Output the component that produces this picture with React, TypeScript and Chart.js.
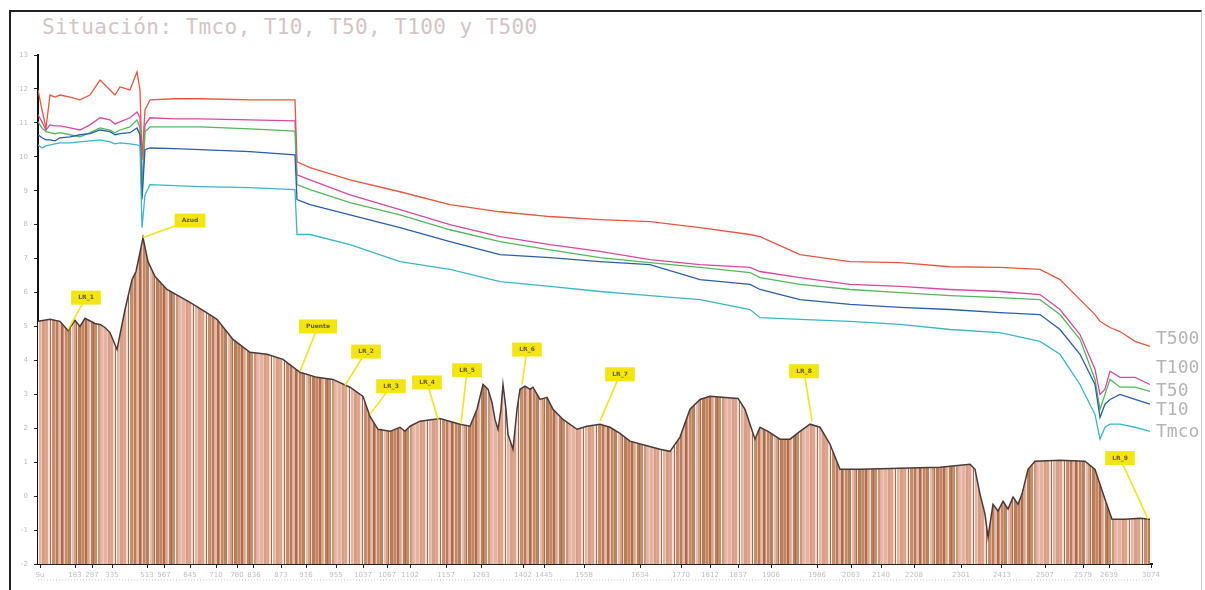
import { useEffect, useRef } from 'react';
import { Chart, registerables } from 'chart.js';
Chart.register(...registerables);

// ---- data (x = chainage, y = elevation) ----
const seriesX = [0, 40, 80, 120, 170, 220, 320, 420, 520, 620, 720, 770, 820, 920, 990, 1020, 1040, 1070, 1120, 1370, 1620, 2120, 2570, 2590, 2720, 3120, 3620, 4120, 4620, 5120, 5620, 6120, 6620, 7120, 7220, 7620, 8120, 8620, 9120, 9620, 10020, 10220, 10420, 10570, 10620, 10670, 10720, 10820, 10970, 11120];
const t500 = [11.97, 11.38, 10.85, 11.82, 11.76, 11.82, 11.76, 11.68, 11.82, 12.26, 11.97, 11.82, 12.06, 11.97, 12.5, 11.97, 9.91, 11.38, 11.68, 11.71, 11.71, 11.68, 11.68, 9.85, 9.68, 9.32, 8.97, 8.59, 8.38, 8.24, 8.15, 8.09, 7.91, 7.71, 7.65, 7.12, 6.91, 6.88, 6.76, 6.74, 6.68, 6.38, 5.79, 5.35, 5.15, 5.06, 4.97, 4.85, 4.56, 4.41];
const t100 = [11.24, 11.03, 10.79, 10.94, 10.91, 10.91, 10.85, 10.79, 10.94, 11.15, 11.09, 10.97, 11.03, 11.15, 11.32, 11.15, 9.03, 10.94, 11.15, 11.12, 11.12, 11.09, 11.06, 9.47, 9.32, 8.88, 8.44, 8.0, 7.65, 7.41, 7.21, 6.97, 6.82, 6.74, 6.62, 6.44, 6.24, 6.18, 6.09, 6.03, 5.94, 5.5, 4.76, 3.74, 3.0, 3.15, 3.68, 3.5, 3.5, 3.29];
const t50 = [11.03, 10.85, 10.74, 10.71, 10.68, 10.71, 10.65, 10.59, 10.71, 10.85, 10.79, 10.71, 10.79, 10.88, 11.09, 10.85, 8.88, 10.74, 10.88, 10.88, 10.88, 10.82, 10.76, 9.18, 9.03, 8.65, 8.29, 7.85, 7.5, 7.26, 7.03, 6.88, 6.74, 6.59, 6.44, 6.24, 6.09, 6.0, 5.91, 5.85, 5.79, 5.35, 4.62, 3.44, 2.56, 3.0, 3.44, 3.21, 3.21, 3.09];
const t10 = [10.65, 10.56, 10.5, 10.5, 10.47, 10.56, 10.59, 10.65, 10.68, 10.79, 10.74, 10.65, 10.68, 10.71, 10.85, 10.65, 8.74, 10.21, 10.26, 10.24, 10.21, 10.15, 10.06, 8.74, 8.59, 8.29, 7.91, 7.5, 7.12, 7.03, 6.91, 6.82, 6.38, 6.24, 6.09, 5.79, 5.65, 5.56, 5.5, 5.41, 5.35, 4.91, 4.18, 3.29, 2.32, 2.71, 2.85, 3.0, 2.85, 2.71];
const tmco = [10.35, 10.26, 10.32, 10.35, 10.38, 10.41, 10.41, 10.44, 10.47, 10.5, 10.44, 10.38, 10.41, 10.38, 10.35, 10.32, 7.91, 8.88, 9.18, 9.15, 9.12, 9.09, 9.03, 7.71, 7.71, 7.41, 6.91, 6.68, 6.32, 6.18, 6.03, 5.91, 5.79, 5.5, 5.26, 5.21, 5.15, 5.06, 4.91, 4.82, 4.56, 4.18, 3.29, 2.41, 1.68, 2.03, 2.12, 2.12, 2.03, 1.91];

const profileX = [0, 120, 220, 300, 370, 420, 470, 570, 620, 670, 720, 790, 870, 940, 980, 1020, 1050, 1100, 1170, 1290, 1520, 1670, 1790, 1950, 2120, 2290, 2450, 2620, 2790, 2950, 3120, 3250, 3320, 3400, 3520, 3620, 3670, 3720, 3820, 4020, 4220, 4320, 4390, 4450, 4500, 4540, 4570, 4600, 4630, 4650, 4680, 4700, 4750, 4790, 4820, 4870, 4920, 4950, 5020, 5090, 5150, 5250, 5390, 5490, 5620, 5720, 5820, 5920, 6070, 6220, 6320, 6420, 6520, 6620, 6720, 6870, 7000, 7070, 7120, 7170, 7220, 7300, 7420, 7520, 7620, 7720, 7820, 7920, 8020, 8220, 8620, 9020, 9320, 9370, 9420, 9470, 9500, 9550, 9600, 9650, 9700, 9750, 9800, 9840, 9900, 9970, 10220, 10470, 10570, 10670, 10740, 10870, 11020, 11120];
const profileY = [5.15, 5.21, 5.15, 4.88, 5.18, 5.0, 5.24, 5.09, 5.06, 4.97, 4.82, 4.32, 5.5, 6.38, 6.62, 7.18, 7.62, 6.91, 6.47, 6.09, 5.71, 5.44, 5.21, 4.62, 4.24, 4.18, 4.03, 3.65, 3.5, 3.44, 3.21, 2.94, 2.35, 1.97, 1.91, 2.03, 1.91, 2.06, 2.21, 2.29, 2.12, 2.06, 2.56, 3.29, 3.15, 2.76, 2.26, 1.97, 2.56, 3.29, 2.56, 1.82, 1.38, 2.56, 3.15, 3.24, 3.15, 3.21, 2.85, 2.91, 2.56, 2.26, 1.97, 2.06, 2.12, 2.03, 1.85, 1.62, 1.5, 1.38, 1.32, 1.74, 2.56, 2.85, 2.94, 2.91, 2.88, 2.56, 2.12, 1.68, 2.03, 1.91, 1.68, 1.68, 1.91, 2.12, 2.03, 1.53, 0.79, 0.79, 0.82, 0.85, 0.94, 0.79, 0.06, -0.53, -1.21, -0.24, -0.44, -0.15, -0.38, -0.03, -0.24, 0.06, 0.79, 1.03, 1.06, 1.03, 0.79, -0.09, -0.68, -0.68, -0.65, -0.68];

const xTickValues = [20, 370, 540, 740, 1090, 1260, 1520, 1780, 1990, 2160, 2430, 2680, 2980, 3250, 3490, 3720, 4080, 4430, 4850, 5060, 5460, 6020, 6430, 6720, 7000, 7330, 7790, 8130, 8430, 8760, 9230, 9640, 10070, 10450, 10710, 11130];
const xTickLabels = ['Su', '183', '287', '335', '513', '567', '645', '710', '780', '836', '873', '916', '955', '1037', '1067', '1102', '1157', '1263', '1402', '1445', '1558', '1634', '1770', '1812', '1837', '1906', '1986', '2063', '2140', '2208', '2301', '2413', '2507', '2579', '2639', '3074'];

const annNames = ['LR_1', 'Azud', 'Puente', 'LR_2', 'LR_3', 'LR_4', 'LR_5', 'LR_6', 'LR_7', 'LR_8', 'LR_9'];
const annTargetX = [300, 1050, 2620, 3070, 3320, 4000, 4230, 4840, 5620, 7740, 11100];
const annTargetY = [4.91, 7.62, 3.68, 3.26, 2.41, 2.26, 2.12, 3.29, 2.21, 2.21, -0.68];
const annLabelX = [480, 1520, 2800, 3280, 3530, 3890, 4290, 4890, 5820, 7660, 10820];
const annLabelY = [5.85, 8.12, 5.0, 4.26, 3.24, 3.35, 3.71, 4.32, 3.59, 3.68, 1.12];

const endLabels = ['T500', 'T100', 'T50', 'T10', 'Tmco'];
const endLabelY = [4.62, 3.76, 3.09, 2.53, 1.88];

const seriesNames = ['Tmco', 'T10', 'T50', 'T100', 'T500'];
const seriesValues = [tmco, t10, t50, t100, t500];
const seriesColors = ['#3bb5c8', '#2b5ea8', '#52b85a', '#d9489e', '#e9553f'];

function makeStripePattern(ctx: CanvasRenderingContext2D) {
  const colors = ['#b57d5a', '#e2b4a2', '#c48d6b', '#f4dcd4', '#a9704e', '#d3a083', '#ebbcae', '#fdf6f2', '#b88260', '#d9a68c', '#c08764', '#f0c6bc', '#cc9677', '#a66d4c', '#e3bba6', '#e8a59c'];
  const widths = [3, 1, 2, 1, 2, 2, 1, 1, 2, 1, 3, 1, 2, 2, 1, 1];
  const c = document.createElement('canvas');
  let total = 0;
  for (let r = 0; r < 3; r++) for (let i = 0; i < widths.length; i++) total += widths[i];
  c.width = total; c.height = 8;
  const g = c.getContext('2d')!;
  let x = 0;
  for (let r = 0; r < 3; r++) {
    for (let i = 0; i < colors.length; i++) {
      const k = (i * (r + 1) * 5 + r) % colors.length;
      g.fillStyle = colors[k];
      g.fillRect(x, 0, widths[i], 8);
      x += widths[i];
    }
  }
  return ctx.createPattern(c, 'repeat');
}

const overlayPlugin = {
  id: 'overlay',
  afterDatasetsDraw(chart: any) {
    const { ctx, scales, chartArea } = chart;
    const xs = scales.x, ys = scales.y;
    ctx.save();
    for (let i = 0; i < annNames.length; i++) {
      const tx = xs.getPixelForValue(annTargetX[i]);
      const ty = ys.getPixelForValue(annTargetY[i]);
      const lx = xs.getPixelForValue(annLabelX[i]);
      const ly = ys.getPixelForValue(annLabelY[i]);
      ctx.strokeStyle = '#f0e41a';
      ctx.lineWidth = 1.6;
      ctx.beginPath();
      ctx.moveTo(lx, ly);
      ctx.lineTo(tx, ty);
      ctx.stroke();
      ctx.font = 'bold 6px "DejaVu Sans"';
      const w = Math.max(24, ctx.measureText(annNames[i]).width + 14);
      ctx.fillStyle = '#f3e60c';
      ctx.fillRect(lx - w / 2, ly - 7, w, 14);
      ctx.fillStyle = '#6a5a30';
      ctx.textAlign = 'center';
      ctx.textBaseline = 'middle';
      ctx.fillText(annNames[i], lx, ly);
    }
    ctx.font = '18px "DejaVu Sans Mono"';
    ctx.fillStyle = '#b4b4b4';
    ctx.textAlign = 'left';
    ctx.textBaseline = 'middle';
    for (let i = 0; i < endLabels.length; i++) {
      ctx.fillText(endLabels[i], chartArea.right + 4, ys.getPixelForValue(endLabelY[i]));
    }
    ctx.strokeStyle = '#c4c4c4';
    ctx.lineWidth = 1;
    ctx.setLineDash([1, 2]);
    ctx.beginPath();
    ctx.moveTo(chartArea.left, chartArea.bottom + 16);
    ctx.lineTo(chartArea.right, chartArea.bottom + 16);
    ctx.stroke();
    ctx.restore();
  },
};

export default function App() {
  const ref = useRef<HTMLCanvasElement>(null);
  useEffect(() => {
    const canvas = ref.current!;
    const ctx = canvas.getContext('2d')!;
    const pattern = makeStripePattern(ctx);
    const lineSets = seriesNames.map((name, s) => ({
      type: 'line' as const,
      label: name,
      data: seriesX.map((x, i) => ({ x, y: seriesValues[s][i] })),
      borderColor: seriesColors[s],
      borderWidth: 1.3,
      pointRadius: 0,
      fill: false,
      tension: 0,
      order: 1,
    }));
    const chart = new Chart(ctx, {
      type: 'line',
      data: {
        datasets: [
          {
            label: 'Perfil',
            data: profileX.map((x, i) => ({ x, y: profileY[i] })),
            borderColor: '#4a3a3a',
            borderWidth: 1.5,
            backgroundColor: pattern as any,
            fill: 'start',
            pointRadius: 0,
            tension: 0,
            order: 2,
          },
          ...lineSets,
        ],
      },
      options: {
        responsive: false,
        animation: false,
        layout: { padding: { left: 8, right: 53, top: 55, bottom: 0 } },
        plugins: { legend: { display: false }, tooltip: { enabled: false }, title: { display: false } },
        scales: {
          x: {
            type: 'linear',
            min: 0,
            max: 11140,
            afterFit: (s: any) => { s.height = 26; },
            afterBuildTicks: (axis: any) => { axis.ticks = xTickValues.map((v) => ({ value: v })); },
            ticks: {
              autoSkip: false,
              maxRotation: 0,
              padding: 3,
              color: '#bdbdbd',
              font: { size: 7, family: 'DejaVu Sans' },
              callback: (_v: any, i: number) => xTickLabels[i],
            },
            grid: { display: true, drawOnChartArea: false, drawTicks: true, tickLength: 4, color: '#222' },
            border: { display: true, color: '#222', width: 2 },
          },
          y: {
            type: 'linear',
            min: -2,
            max: 13,
            afterFit: (s: any) => { s.width = 30; },
            ticks: { stepSize: 1, color: '#bdbdbd', font: { size: 7, family: 'DejaVu Sans' }, padding: 6 },
            grid: { display: true, drawOnChartArea: false, drawTicks: true, tickLength: 4, color: '#222' },
            border: { display: true, color: '#111', width: 2 },
          },
        },
      },
      plugins: [overlayPlugin],
    });
    return () => chart.destroy();
  }, []);

  return (
    <div style={{ position: 'absolute', left: 0, top: 0, width: 1205, height: 590, background: '#fff', overflow: 'hidden' }}>
      <div style={{ position: 'absolute', left: 9, top: 10, width: 1190, height: 600, borderTop: '2px solid #222', borderLeft: '2px solid #222', borderRight: '1px solid #ccc' }} />
      <div style={{ position: 'absolute', left: 42, top: 15, fontFamily: '"DejaVu Sans Mono", monospace', fontSize: 21, color: '#d3c4c6', whiteSpace: 'nowrap', letterSpacing: 0.4 }}>
        Situación: Tmco, T10, T50, T100 y T500
      </div>
      <canvas ref={ref} width={1205} height={590} style={{ position: 'absolute', left: 0, top: 0 }} />
    </div>
  );
}
